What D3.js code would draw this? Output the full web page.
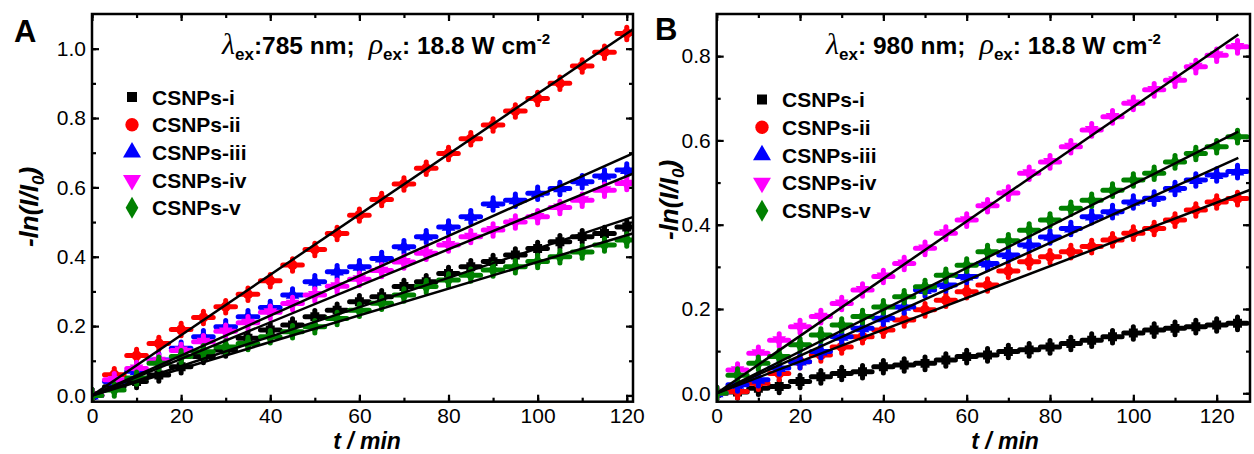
<!DOCTYPE html>
<html>
<head>
<meta charset="utf-8">
<script src="https://cdn.jsdelivr.net/npm/d3@7"></script>
<style>
  body { margin: 0; background: #fff; }
  text { font-family: "Liberation Sans", Arial, sans-serif; }
</style>
</head>
<body>
<svg id="chart" width="1254" height="454"></svg>
<script>
// ---- data ----
const seriesNames = ["CSNPs-i", "CSNPs-ii", "CSNPs-iii", "CSNPs-iv", "CSNPs-v"];
const seriesColors = ["#000000", "#ff0000", "#0000ff", "#ff00ff", "#008000"];
const seriesSymbols = [d3.symbolSquare, d3.symbolCircle, d3.symbolTriangle, d3.symbolTriangle, d3.symbolDiamond];

const timeA = [0, 5, 10, 15, 20, 25, 30, 35, 40, 45, 50, 55, 60, 65, 70, 75, 80, 85, 90, 95, 100, 105, 110, 115, 120];
const aI   = [0, 0.025, 0.04, 0.059, 0.083, 0.112, 0.131, 0.165, 0.189, 0.203, 0.227, 0.246, 0.27, 0.285, 0.314, 0.328, 0.352, 0.371, 0.386, 0.405, 0.424, 0.443, 0.458, 0.467, 0.486];
const aII  = [0, 0.06, 0.115, 0.15, 0.19, 0.225, 0.256, 0.292, 0.331, 0.376, 0.421, 0.467, 0.52, 0.565, 0.61, 0.655, 0.698, 0.74, 0.78, 0.82, 0.856, 0.9, 0.95, 0.99, 1.044];
const aIII = [0, 0.04, 0.07, 0.102, 0.136, 0.169, 0.198, 0.227, 0.254, 0.29, 0.328, 0.357, 0.371, 0.395, 0.429, 0.458, 0.486, 0.515, 0.552, 0.563, 0.583, 0.597, 0.616, 0.633, 0.65];
const aIV  = [0, 0.045, 0.078, 0.1, 0.13, 0.155, 0.185, 0.21, 0.24, 0.265, 0.29, 0.315, 0.335, 0.36, 0.385, 0.41, 0.434, 0.458, 0.477, 0.5, 0.515, 0.542, 0.563, 0.592, 0.611];
const aV   = [0, 0.016, 0.05, 0.093, 0.112, 0.126, 0.14, 0.15, 0.169, 0.184, 0.198, 0.222, 0.246, 0.266, 0.29, 0.314, 0.333, 0.347, 0.362, 0.371, 0.386, 0.4, 0.414, 0.434, 0.448];
const fitSlopeA = [0.00424, 0.0087, 0.00575, 0.00527, 0.00385];
const fitEndA   = [122, 122, 122, 122, 122];

const timeB = [0, 5, 10, 15, 20, 25, 30, 35, 40, 45, 50, 55, 60, 65, 70, 75, 80, 85, 90, 95, 100, 105, 110, 115, 120, 125];
const bI   = [0, 0.003, 0.012, 0.016, 0.028, 0.039, 0.047, 0.051, 0.063, 0.067, 0.071, 0.079, 0.087, 0.091, 0.099, 0.103, 0.11, 0.118, 0.126, 0.134, 0.143, 0.15, 0.154, 0.158, 0.162, 0.166];
const bII  = [0, 0.004, 0.024, 0.047, 0.075, 0.091, 0.11, 0.134, 0.15, 0.174, 0.198, 0.221, 0.241, 0.257, 0.29, 0.312, 0.324, 0.336, 0.348, 0.364, 0.38, 0.391, 0.411, 0.435, 0.454, 0.462];
const bIII = [0, 0.02, 0.032, 0.06, 0.075, 0.099, 0.134, 0.154, 0.178, 0.205, 0.245, 0.257, 0.277, 0.308, 0.328, 0.352, 0.371, 0.391, 0.419, 0.431, 0.454, 0.463, 0.486, 0.506, 0.518, 0.526];
const bIV  = [0, 0.055, 0.095, 0.126, 0.158, 0.182, 0.213, 0.245, 0.277, 0.308, 0.344, 0.38, 0.411, 0.445, 0.475, 0.522, 0.549, 0.585, 0.625, 0.656, 0.688, 0.72, 0.743, 0.775, 0.802, 0.822];
const bV   = [0, 0.043, 0.071, 0.087, 0.115, 0.138, 0.162, 0.182, 0.205, 0.229, 0.253, 0.28, 0.304, 0.336, 0.362, 0.387, 0.411, 0.439, 0.458, 0.482, 0.506, 0.522, 0.549, 0.569, 0.585, 0.609];
const fitSlopeB = [null, 0.00377, 0.00446, 0.0068, 0.00496];
const fitEndB   = [0, 129, 125.2, 125.2, 125.2];

const xTicks = [0, 20, 40, 60, 80, 100, 120];
const yTicksA = [0, 0.2, 0.4, 0.6, 0.8, 1.0];
const yTicksB = [0, 0.2, 0.4, 0.6, 0.8];

const svg = d3.select("#chart");

function drawPanel(p) {
  const x = d3.scaleLinear().domain(p.xDomain).range([p.left, p.right]);
  const y = d3.scaleLinear().domain(p.yDomain).range([p.bottom, p.top]);
  const g = svg.append("g");

  g.append("clipPath").attr("id", p.id + "-clip")
    .append("rect")
    .attr("x", p.left).attr("y", p.top)
    .attr("width", p.right - p.left).attr("height", p.bottom - p.top);

  // axes, ticks pointing inward
  const xMinor = d3.range(0, p.xDomain[1], 10);
  const yMinor = d3.range(0, p.yDomain[1], 0.1);
  function styleAxis(sel) {
    sel.select(".domain").remove();
    sel.selectAll("line").attr("stroke", "#000").attr("stroke-width", 2.2);
    sel.selectAll("text").attr("font-size", 21).attr("fill", "#000")
      .style("font-family", '"Liberation Sans", Arial, sans-serif');
  }
  const axes = [
    [d3.axisBottom(x).tickValues(xMinor).tickSize(-4).tickFormat(""), `translate(0,${p.bottom})`],
    [d3.axisTop(x).tickValues(xMinor).tickSize(-4).tickFormat(""), `translate(0,${p.top})`],
    [d3.axisBottom(x).tickValues(xTicks).tickSize(-7).tickPadding(6).tickFormat(d3.format("d")), `translate(0,${p.bottom})`],
    [d3.axisTop(x).tickValues(xTicks).tickSize(-7).tickFormat(""), `translate(0,${p.top})`],
    [d3.axisLeft(y).tickValues(yMinor).tickSize(-4).tickFormat(""), `translate(${p.left},0)`],
    [d3.axisRight(y).tickValues(yMinor).tickSize(-4).tickFormat(""), `translate(${p.right},0)`],
    [d3.axisLeft(y).tickValues(p.yTicks).tickSize(-7).tickPadding(6).tickFormat(d3.format(".1f")), `translate(${p.left},0)`],
    [d3.axisRight(y).tickValues(p.yTicks).tickSize(-7).tickFormat(""), `translate(${p.right},0)`]
  ];
  axes.forEach(([ax, tr]) => g.append("g").attr("transform", tr).call(ax).call(styleAxis));

  // data points with error bars
  const plot = g.append("g").attr("clip-path", `url(#${p.id}-clip)`);
  p.series.forEach((s, i) => {
    const pts = p.times.map((t, k) => ({ t: t, v: s[k] }));
    const sg = plot.append("g").attr("stroke", seriesColors[i]).attr("fill", seriesColors[i]);
    sg.selectAll("line.h").data(pts).enter().append("line")
      .attr("x1", d => x(d.t - p.xErr)).attr("x2", d => x(d.t + p.xErr))
      .attr("y1", d => y(d.v)).attr("y2", d => y(d.v))
      .attr("stroke-width", 5).attr("stroke-linecap", "round");
    sg.selectAll("line.v").data(pts).enter().append("line")
      .attr("x1", d => x(d.t)).attr("x2", d => x(d.t))
      .attr("y1", d => y(d.v - p.yErr)).attr("y2", d => y(d.v + p.yErr))
      .attr("stroke-width", 5).attr("stroke-linecap", "round");
    sg.selectAll("path").data(pts).enter().append("path")
      .attr("stroke", "none")
      .attr("d", d3.symbol().type(seriesSymbols[i]).size(80))
      .attr("transform", d => `translate(${x(d.t)},${y(d.v)})` + (i === 3 ? " rotate(180)" : ""));
  });

  // linear fits
  p.slopes.forEach((k, i) => {
    if (k === null) return;
    plot.append("line")
      .attr("x1", x(0)).attr("y1", y(0))
      .attr("x2", x(p.fitEnd[i])).attr("y2", y(k * p.fitEnd[i]))
      .attr("stroke", "#000").attr("stroke-width", 2.5);
  });

  // frame
  g.append("rect")
    .attr("x", p.left).attr("y", p.top)
    .attr("width", p.right - p.left).attr("height", p.bottom - p.top)
    .attr("fill", "none").attr("stroke", "#000").attr("stroke-width", 2.5);

  // panel letter
  g.append("text").attr("x", p.letterX).attr("y", p.letterY)
    .attr("font-size", 31).attr("font-weight", "bold").text(p.letter);

  // excitation annotation
  const an = g.append("text").attr("x", p.annoX).attr("y", 54)
    .attr("font-size", 24.5).attr("font-weight", "bold");
  an.append("tspan").attr("font-family", '"Liberation Serif", serif').attr("font-style", "italic")
    .attr("font-weight", "normal").attr("font-size", 30).text("λ");
  an.append("tspan").attr("font-size", 17).attr("dy", 6).text("ex");
  an.append("tspan").attr("dy", -6).text(p.lambdaText);
  an.append("tspan").attr("font-family", '"Liberation Serif", serif').attr("font-style", "italic")
    .attr("font-weight", "normal").attr("font-size", 30).attr("dx", 14).text("ρ");
  an.append("tspan").attr("font-size", 17).attr("dy", 6).text("ex");
  an.append("tspan").attr("dy", -6).text(": 18.8 W cm");
  an.append("tspan").attr("font-size", 15).attr("dy", -10).text("-2");

  // legend
  seriesNames.forEach((name, i) => {
    const ly = p.legendY + i * p.legendStep;
    g.append("path")
      .attr("d", d3.symbol().type(seriesSymbols[i]).size(i === 0 ? 100 : 140))
      .attr("transform", `translate(${p.legendX},${ly})` + (i === 3 ? " rotate(180)" : ""))
      .attr("fill", seriesColors[i]);
    g.append("text").attr("x", p.legendX + 20).attr("y", ly + 7.5)
      .attr("font-size", 21).attr("font-weight", "bold").text(name);
  });

  // axis titles
  g.append("text").attr("x", p.xLabelX).attr("y", 449)
    .attr("text-anchor", "middle").attr("font-size", 23)
    .attr("font-weight", "bold").attr("font-style", "italic").text("t / min");
  const yl = g.append("text")
    .attr("transform", `translate(${p.yLabelX},${p.yLabelY}) rotate(-90)`)
    .attr("text-anchor", "middle").attr("font-size", 26)
    .attr("font-weight", "bold").attr("font-style", "italic");
  yl.append("tspan").text("-ln(I/I");
  yl.append("tspan").attr("font-size", 17).attr("dy", 6).text("0");
  yl.append("tspan").attr("dy", -6).text(")");
}

drawPanel({
  id: "pa", left: 92, right: 633, top: 14, bottom: 401.7,
  xDomain: [0, 121.4], yDomain: [-0.018, 1.1], yTicks: yTicksA,
  times: timeA, series: [aI, aII, aIII, aIV, aV],
  slopes: fitSlopeA, fitEnd: fitEndA, xErr: 2.2, yErr: 0.018,
  letter: "A", letterX: 14, letterY: 42,
  annoX: 222, lambdaText: ":785 nm;",
  legendX: 132, legendY: 97, legendStep: 27.7,
  xLabelX: 367, yLabelX: 38, yLabelY: 207
});

drawPanel({
  id: "pb", left: 716.7, right: 1250, top: 14, bottom: 401.7,
  xDomain: [0, 128], yDomain: [-0.02, 0.9], yTicks: yTicksB,
  times: timeB, series: [bI, bII, bIII, bIV, bV],
  slopes: fitSlopeB, fitEnd: fitEndB, xErr: 2.3, yErr: 0.015,
  letter: "B", letterX: 655, letterY: 40,
  annoX: 826, lambdaText: ": 980 nm;",
  legendX: 762, legendY: 99.5, legendStep: 27.8,
  xLabelX: 1005, yLabelX: 678, yLabelY: 200
});
</script>
</body>
</html>
